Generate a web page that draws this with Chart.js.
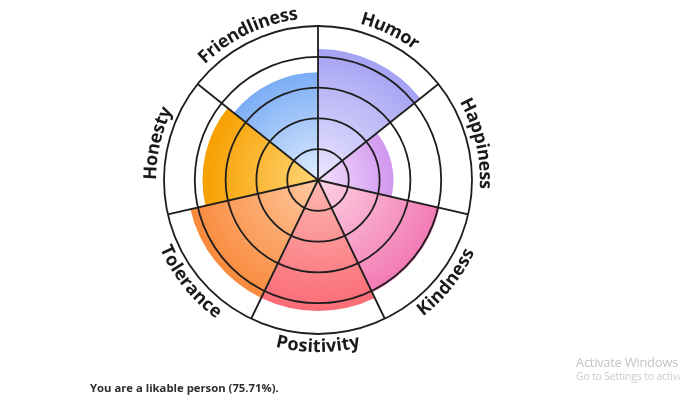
<!DOCTYPE html>
<html>
<head>
<meta charset="utf-8">
<script src="https://cdn.jsdelivr.net/npm/chart.js@4/dist/chart.umd.min.js"></script>
<style>
  html, body { margin: 0; padding: 0; background: #fff; }
  #wrap { position: relative; width: 680px; height: 405px; }
  #c { position: absolute; left: 0; top: 0; }
  #caption { position: absolute; left: 90px; top: 380px; font: bold 11.3px "Open Sans", sans-serif; color: #2e2e2e; }
  #wm1 { position: absolute; left: 576px; top: 353px; font: 13px "Open Sans", sans-serif; color: #c4c4c4; white-space: nowrap; letter-spacing: -0.3px; }
  #wm2 { position: absolute; left: 576px; top: 369px; font: 10.5px "Open Sans", sans-serif; color: #cbcbcb; white-space: nowrap; letter-spacing: -0.2px; }
</style>
</head>
<body>
<div id="wrap">
  <canvas id="c" width="680" height="405"></canvas>
  <div id="caption">You are a likable person (75.71%).</div>
  <div id="wm1">Activate Windows</div>
  <div id="wm2">Go to Settings to activat</div>
</div>
<script>
const categories = ["Humor", "Happiness", "Kindness", "Positivity", "Tolerance", "Honesty", "Friendliness"];
const scores = [85, 49, 81, 85, 85, 75, 70];
const innerColors = ["#ece7ff", "#f3e0fd", "#fdd3e3", "#fdb7b1", "#ffc9a0", "#ffd576", "#dfecfe"];
const outerColors = ["#a4a2f3", "#d197ef", "#f27ab4", "#fa6c76", "#f98a3c", "#f7a000", "#7badf5"];
const tickValues = [0, 20, 40, 60, 80, 100];

function segFill(ctx) {
  const chart = ctx.chart;
  const scale = chart.scales && chart.scales.r;
  const i = ctx.dataIndex;
  if (!chart.chartArea || !scale || scale.xCenter === undefined) return outerColors[i];
  const r = scale.getDistanceFromCenterForValue(scores[i]);
  const g = chart.ctx.createRadialGradient(scale.xCenter, scale.yCenter, 0, scale.xCenter, scale.yCenter, Math.max(r, 1));
  g.addColorStop(0, innerColors[i]);
  g.addColorStop(1, outerColors[i]);
  return g;
}

const labelPlugin = {
  id: 'arcLabels',
  afterDraw(chart) {
    const scale = chart.scales.r;
    const c = chart.ctx;
    const n = categories.length;
    const R = scale.drawingArea + 13;
    const cx = scale.xCenter, cy = scale.yCenter;
    c.save();
    c.font = 'bold 18px "Open Sans", sans-serif';
    c.fillStyle = '#1a1a1a';
    c.textAlign = 'center';
    c.textBaseline = 'middle';
    categories.forEach((lab, i) => {
      const a = (i + 0.5) * 2 * Math.PI / n; // clockwise from top
      const bottom = a > Math.PI / 2 && a < 3 * Math.PI / 2;
      const w = c.measureText(lab).width;
      const span = w / R;
      let cum = 0;
      for (const ch of lab) {
        const cw = c.measureText(ch).width;
        const off = (cum + cw / 2) / R;
        const th = bottom ? a + span / 2 - off : a - span / 2 + off;
        const x = cx + R * Math.sin(th);
        const y = cy - R * Math.cos(th);
        c.save();
        c.translate(x, y);
        c.rotate(bottom ? th - Math.PI : th);
        c.fillText(ch, 0, 0);
        c.restore();
        cum += cw;
      }
    });
    c.restore();
  }
};

new Chart(document.getElementById('c'), {
  type: 'polarArea',
  data: {
    labels: categories,
    datasets: [{
      data: scores,
      backgroundColor: segFill,
      borderWidth: 0
    }]
  },
  options: {
    responsive: false,
    animation: false,
    layout: { padding: { left: 164, right: 208, top: 26, bottom: 71 } },
    plugins: { legend: { display: false }, tooltip: { enabled: false } },
    scales: {
      r: {
        min: tickValues[0],
        max: tickValues[tickValues.length - 1],
        ticks: { display: false, stepSize: 20, z: 1 },
        afterBuildTicks(s) { s.ticks = tickValues.map(v => ({ value: v })); },
        grid: { circular: true, color: '#1e1e1e', lineWidth: 1.8, z: 1 },
        angleLines: { display: true, color: '#1e1e1e', lineWidth: 1.8 },
        pointLabels: { display: false }
      }
    }
  },
  plugins: [labelPlugin]
});
</script>
</body>
</html>
